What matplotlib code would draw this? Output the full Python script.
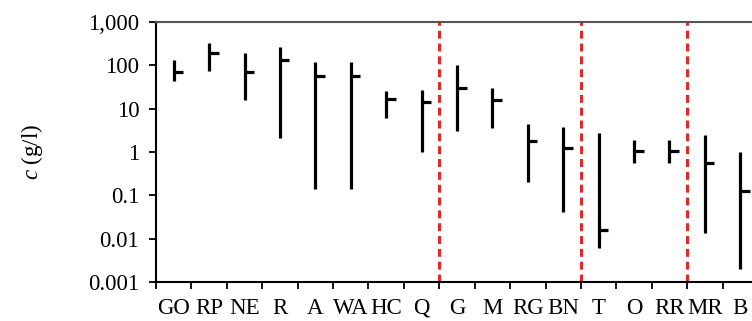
import matplotlib.pyplot as plt
from matplotlib.ticker import FixedLocator, NullFormatter, NullLocator
import numpy as np

# concentration ranges per category (g/l): high, low, typical value
labels = ["GO", "RP", "NE", "R", "A", "WA", "HC", "Q", "G", "M",
          "RG", "BN", "T", "O", "RR", "MR", "B"]
c_high = [131, 318, 187, 266, 116, 116, 25.8, 26.8, 101, 29.3,
          4.35, 3.83, 2.79, 1.89, 1.89, 2.47, 0.98]
c_low = [43, 74, 15.8, 2.07, 0.139, 0.139, 6.0, 1.0, 3.05, 3.6,
         0.208, 0.0424, 0.0061, 0.55, 0.55, 0.0135, 0.002]
c_mid = [71, 187, 71, 131, 56, 56, 16.4, 14, 30, 15.8,
         1.82, 1.22, 0.0161, 1.06, 1.06, 0.57, 0.129]

# group boundaries (after Q, BN and RR)
group_breaks = [8, 12, 15]
y_ticks = [0.001, 0.01, 0.1, 1, 10, 100, 1000]
y_ticklabels = ["0.001", "0.01", "0.1", "1", "10", "100", "1,000"]

plt.rcParams["font.family"] = ["Liberation Serif", "DejaVu Serif"]
plt.rcParams["mathtext.fontset"] = "custom"
plt.rcParams["mathtext.it"] = "Liberation Serif:italic"
plt.rcParams["mathtext.rm"] = "Liberation Serif"

fig = plt.figure(figsize=(7.52, 3.21), dpi=100)
ax = fig.add_axes([0.2074, 0.1206, 0.8006, 0.8118])

x = np.arange(len(labels)) + 0.5
ax.vlines(x, c_low, c_high, color="black", linewidth=2.3)
ax.hlines(c_mid, x, x + 0.27, color="black", linewidth=2.3)

for b in group_breaks:
    ax.axvline(b, color="#e02a2a", linewidth=2.2, linestyle=(0, (2.6, 1.6)), zorder=0)

ax.set_yscale("log")
ax.set_ylim(0.001, 1000)
ax.set_xlim(0, len(labels))
ax.yaxis.set_major_locator(FixedLocator(y_ticks))
ax.yaxis.set_minor_locator(NullLocator())
ax.set_yticklabels(y_ticklabels)

ax.set_xticks(np.arange(len(labels) + 1))
ax.xaxis.set_major_formatter(NullFormatter())
ax.set_xticks(x, minor=True)
ax.set_xticklabels(labels, minor=True)
ax.tick_params(axis="x", which="minor", length=0, pad=11, labelsize=16.5)
ax.tick_params(axis="x", which="major", length=5, width=1.3, direction="out")
ax.tick_params(axis="y", length=5, width=1.3, labelsize=16.5, pad=7)

ax.spines["right"].set_visible(False)
for s in ["left", "bottom"]:
    ax.spines[s].set_linewidth(1.5)
ax.spines["top"].set_linewidth(1.5)
ax.spines["top"].set_color("#555555")

ax.set_ylabel(r"$c$ (g/l)", fontsize=16.5, labelpad=31)

fig.savefig("out.png", dpi=100)
